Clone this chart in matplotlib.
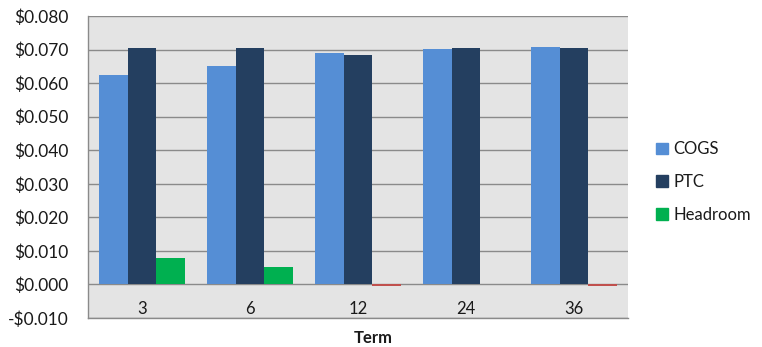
import matplotlib
matplotlib.use("Agg")
import matplotlib.pyplot as plt
from matplotlib.ticker import FuncFormatter
from matplotlib.patches import Patch
import numpy as np

plt.rcParams['font.family'] = ['Lato', 'DejaVu Sans']

terms = ["3", "6", "12", "24", "36"]
cogs = [0.0624, 0.0651, 0.0691, 0.0703, 0.0708]
ptc = [0.0704, 0.0704, 0.0685, 0.0704, 0.0704]
headroom = [0.0080, 0.0053, -0.0006, 0.0001, -0.0004]

c_cogs = "#558ed5"
c_ptc = "#243f60"
c_head = "#00b050"
c_neg = "#c0504d"
grid_c = "#8a8a8a"

fig = plt.figure(figsize=(7.62, 3.47), dpi=100)
ax = fig.add_axes([88/762, 1-318/347, (628-88)/762, (318-16)/347])
ax.set_facecolor("#e4e4e4")

x = np.arange(len(terms))
w = 0.265
ax.bar(x - w, cogs, w, color=c_cogs, zorder=3)
ax.bar(x, ptc, w, color=c_ptc, zorder=3)
ax.bar(x + w, headroom, w, color=[c_head if v >= 0 else c_neg for v in headroom], zorder=3)

ax.set_xlim(-0.5, len(terms) - 0.5)
ax.set_ylim(-0.010, 0.080)
ax.set_yticks(np.arange(-0.010, 0.0801, 0.010))
ax.yaxis.set_major_formatter(FuncFormatter(lambda v, p: ("-$%.3f" % abs(v)) if v < -1e-9 else "$%.3f" % abs(v)))
ax.grid(axis='y', color=grid_c, linewidth=1, zorder=1)
ax.set_axisbelow(True)

ax.set_xticks(x)
ax.set_xticklabels(terms)
ax.tick_params(axis='x', length=0, pad=-12, labelsize=12, colors="#1a1a1a")
ax.tick_params(axis='y', length=0, pad=14, labelsize=12.5, colors="#1a1a1a")

for s in ("top", "right"):
    ax.spines[s].set_visible(False)
for s in ("left", "bottom"):
    ax.spines[s].set_color(grid_c)
    ax.spines[s].set_linewidth(1)

fig.text(373/762, 1-338/347, "Term", ha="center", va="center", fontsize=12, fontweight="bold", color="#1a1a1a")

handles = [Patch(color=c_cogs, label="COGS"), Patch(color=c_ptc, label="PTC"), Patch(color=c_head, label="Headroom")]
fig.legend(handles=handles, loc="center left", bbox_to_anchor=(641/762, 1-182/347), frameon=False,
           fontsize=12, handlelength=0.7, handleheight=0.7, handletextpad=0.35, labelspacing=1.0,
           labelcolor="#1a1a1a")

fig.savefig("out.png", dpi=100)
